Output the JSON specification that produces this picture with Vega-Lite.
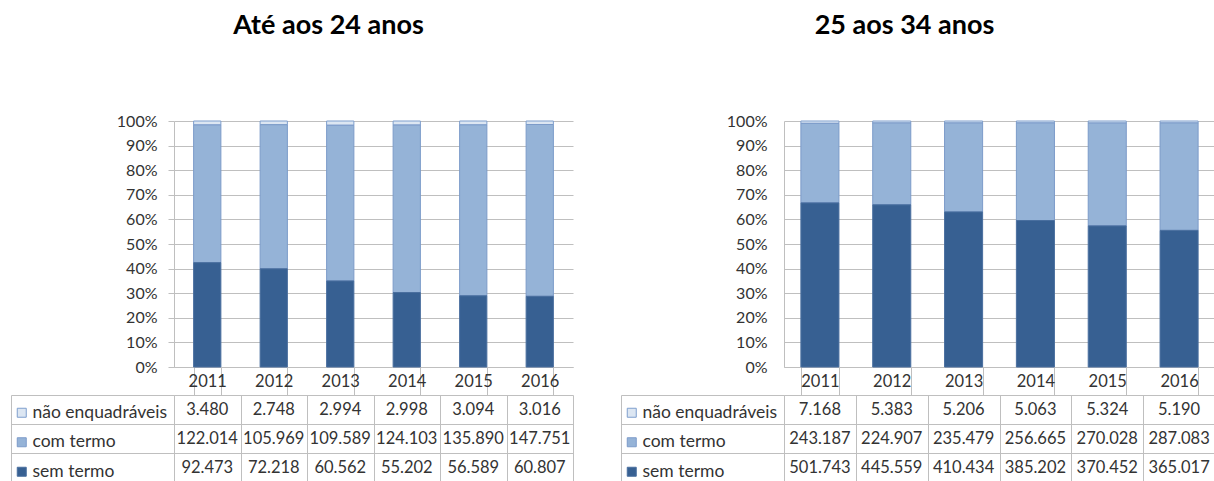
{
  "$schema": "https://vega.github.io/schema/vega-lite/v6.json",
  "background": "white",
  "padding": {"left": 10, "top": 12, "right": 0, "bottom": 0},
  "datasets": {
    "jovens": [
      {"ano": "2011", "serie": "não enquadráveis", "valor": 3480, "ordem": 3},
      {"ano": "2011", "serie": "com termo", "valor": 122014, "ordem": 2},
      {"ano": "2011", "serie": "sem termo", "valor": 92473, "ordem": 1},
      {"ano": "2012", "serie": "não enquadráveis", "valor": 2748, "ordem": 3},
      {"ano": "2012", "serie": "com termo", "valor": 105969, "ordem": 2},
      {"ano": "2012", "serie": "sem termo", "valor": 72218, "ordem": 1},
      {"ano": "2013", "serie": "não enquadráveis", "valor": 2994, "ordem": 3},
      {"ano": "2013", "serie": "com termo", "valor": 109589, "ordem": 2},
      {"ano": "2013", "serie": "sem termo", "valor": 60562, "ordem": 1},
      {"ano": "2014", "serie": "não enquadráveis", "valor": 2998, "ordem": 3},
      {"ano": "2014", "serie": "com termo", "valor": 124103, "ordem": 2},
      {"ano": "2014", "serie": "sem termo", "valor": 55202, "ordem": 1},
      {"ano": "2015", "serie": "não enquadráveis", "valor": 3094, "ordem": 3},
      {"ano": "2015", "serie": "com termo", "valor": 135890, "ordem": 2},
      {"ano": "2015", "serie": "sem termo", "valor": 56589, "ordem": 1},
      {"ano": "2016", "serie": "não enquadráveis", "valor": 3016, "ordem": 3},
      {"ano": "2016", "serie": "com termo", "valor": 147751, "ordem": 2},
      {"ano": "2016", "serie": "sem termo", "valor": 60807, "ordem": 1}
    ],
    "adultos": [
      {"ano": "2011", "serie": "não enquadráveis", "valor": 7168, "ordem": 3},
      {"ano": "2011", "serie": "com termo", "valor": 243187, "ordem": 2},
      {"ano": "2011", "serie": "sem termo", "valor": 501743, "ordem": 1},
      {"ano": "2012", "serie": "não enquadráveis", "valor": 5383, "ordem": 3},
      {"ano": "2012", "serie": "com termo", "valor": 224907, "ordem": 2},
      {"ano": "2012", "serie": "sem termo", "valor": 445559, "ordem": 1},
      {"ano": "2013", "serie": "não enquadráveis", "valor": 5206, "ordem": 3},
      {"ano": "2013", "serie": "com termo", "valor": 235479, "ordem": 2},
      {"ano": "2013", "serie": "sem termo", "valor": 410434, "ordem": 1},
      {"ano": "2014", "serie": "não enquadráveis", "valor": 5063, "ordem": 3},
      {"ano": "2014", "serie": "com termo", "valor": 256665, "ordem": 2},
      {"ano": "2014", "serie": "sem termo", "valor": 385202, "ordem": 1},
      {"ano": "2015", "serie": "não enquadráveis", "valor": 5324, "ordem": 3},
      {"ano": "2015", "serie": "com termo", "valor": 270028, "ordem": 2},
      {"ano": "2015", "serie": "sem termo", "valor": 370452, "ordem": 1},
      {"ano": "2016", "serie": "não enquadráveis", "valor": 5190, "ordem": 3},
      {"ano": "2016", "serie": "com termo", "valor": 287083, "ordem": 2},
      {"ano": "2016", "serie": "sem termo", "valor": 365017, "ordem": 1}
    ]
  },
  "columns": 2,
  "bounds": "flush",
  "align": "each",
  "spacing": {"row": 28, "column": 211},
  "resolve": {
    "scale": {"color": "independent", "stroke": "independent"},
    "legend": {"color": "independent", "stroke": "independent"}
  },
  "concat": [
    {
      "data": {"name": "jovens"},
      "width": 399,
      "height": 246,
      "title": {"text": "Até aos 24 anos", "anchor": "middle", "frame": "group", "dx": -45, "offset": 52, "baseline": "alphabetic", "fontSize": 27, "fontWeight": "bold", "color": "#000000"},
      "mark": {"type": "bar", "strokeWidth": 1},
      "encoding": {
        "x": {"field": "ano", "type": "ordinal", "scale": {"paddingInner": 0.59, "paddingOuter": 0.295},
          "axis": {"title": null, "orient": "bottom", "tickBand": "extent", "tickSize": 28, "labelAngle": 0, "labelBaseline": "middle", "labelPadding": -14, "labelFontSize": 16.5, "grid": false}},
        "y": {"field": "valor", "type": "quantitative", "stack": "normalize", "scale": {"domain": [0, 1]},
          "axis": {"title": null, "format": "%", "values": [0, 0.1, 0.2, 0.3, 0.4, 0.5, 0.6, 0.7, 0.8, 0.9, 1], "tickSize": 6, "labelPadding": 11, "grid": true}},
        "color": {"field": "serie", "type": "nominal",
          "scale": {"domain": ["não enquadráveis", "com termo", "sem termo"], "range": ["#dce6f2", "#95b3d7", "#376092"]},
          "legend": {"orient": "none", "legendX": -161, "legendY": 283, "title": null, "symbolType": "square", "symbolSize": 81, "labelOffset": 2, "rowPadding": 10.5, "padding": 0}},
        "stroke": {"field": "serie", "type": "nominal",
          "scale": {"domain": ["não enquadráveis", "com termo", "sem termo"], "range": ["#7f9fcd", "#7c9bc9", "#4a6f9f"]},
          "legend": {"orient": "none", "legendX": -161, "legendY": 283, "title": null, "symbolType": "square", "symbolSize": 81, "labelOffset": 2, "rowPadding": 10.5, "padding": 0}},
        "order": {"field": "ordem", "type": "quantitative"}
      }
    },
    {
      "data": {"name": "adultos"},
      "width": 431,
      "height": 246,
      "title": {"text": "25 aos 34 anos", "anchor": "middle", "frame": "group", "dx": -95, "offset": 52, "baseline": "alphabetic", "fontSize": 27, "fontWeight": "bold", "color": "#000000"},
      "mark": {"type": "bar", "strokeWidth": 1},
      "encoding": {
        "x": {"field": "ano", "type": "ordinal", "scale": {"paddingInner": 0.47, "paddingOuter": 0.235},
          "axis": {"title": null, "orient": "bottom", "tickBand": "extent", "tickSize": 28, "labelAngle": 0, "labelBaseline": "middle", "labelPadding": -14, "labelFontSize": 16.5, "grid": false}},
        "y": {"field": "valor", "type": "quantitative", "stack": "normalize", "scale": {"domain": [0, 1]},
          "axis": {"title": null, "format": "%", "values": [0, 0.1, 0.2, 0.3, 0.4, 0.5, 0.6, 0.7, 0.8, 0.9, 1], "ticks": false, "labelPadding": 17, "grid": true}},
        "color": {"field": "serie", "type": "nominal",
          "scale": {"domain": ["não enquadráveis", "com termo", "sem termo"], "range": ["#dce6f2", "#95b3d7", "#376092"]},
          "legend": {"orient": "none", "legendX": -161, "legendY": 283, "title": null, "symbolType": "square", "symbolSize": 81, "labelOffset": 2, "rowPadding": 10.5, "padding": 0}},
        "stroke": {"field": "serie", "type": "nominal",
          "scale": {"domain": ["não enquadráveis", "com termo", "sem termo"], "range": ["#7f9fcd", "#7c9bc9", "#4a6f9f"]},
          "legend": {"orient": "none", "legendX": -161, "legendY": 283, "title": null, "symbolType": "square", "symbolSize": 81, "labelOffset": 2, "rowPadding": 10.5, "padding": 0}},
        "order": {"field": "ordem", "type": "quantitative"}
      }
    },
    {
      "data": {"name": "jovens"},
      "width": 399,
      "height": 87,
      "layer": [
        {
          "mark": {"type": "text", "fontSize": 16.5, "color": "#333333"},
          "encoding": {
            "x": {"field": "ano", "type": "ordinal", "scale": {"paddingInner": 0, "paddingOuter": 0},
              "axis": {"title": null, "orient": "top", "labels": false, "ticks": false, "domain": false, "grid": true, "tickBand": "extent"}},
            "y": {"field": "serie", "type": "nominal", "scale": {"domain": ["não enquadráveis", "com termo", "sem termo"], "paddingInner": 0, "paddingOuter": 0},
              "axis": {"title": null, "orient": "left", "labels": false, "tickBand": "extent", "tickSize": 163, "grid": true}},
            "text": {"field": "valor", "type": "quantitative", "format": ",d"}
          }
        },
        {
          "mark": {"type": "text", "opacity": 0},
          "encoding": {
            "y": {"field": "serie", "type": "nominal", "axis": {"title": null, "orient": "left", "offset": 163, "labels": false, "ticks": false, "grid": false}},
            "text": {"value": ""}
          }
        }
      ],
      "resolve": {"axis": {"y": "independent"}}
    },
    {
      "data": {"name": "adultos"},
      "width": 431,
      "height": 87,
      "layer": [
        {
          "mark": {"type": "text", "fontSize": 16.5, "color": "#333333"},
          "encoding": {
            "x": {"field": "ano", "type": "ordinal", "scale": {"paddingInner": 0, "paddingOuter": 0},
              "axis": {"title": null, "orient": "top", "labels": false, "ticks": false, "domain": false, "grid": true, "tickBand": "extent"}},
            "y": {"field": "serie", "type": "nominal", "scale": {"domain": ["não enquadráveis", "com termo", "sem termo"], "paddingInner": 0, "paddingOuter": 0},
              "axis": {"title": null, "orient": "left", "labels": false, "tickBand": "extent", "tickSize": 163, "grid": true}},
            "text": {"field": "valor", "type": "quantitative", "format": ",d"}
          }
        },
        {
          "mark": {"type": "text", "opacity": 0},
          "encoding": {
            "y": {"field": "serie", "type": "nominal", "axis": {"title": null, "orient": "left", "offset": 163, "labels": false, "ticks": false, "grid": false}},
            "text": {"value": ""}
          }
        }
      ],
      "resolve": {"axis": {"y": "independent"}}
    }
  ],
  "config": {
    "font": "Lato",
    "view": {"stroke": null},
    "locale": {"number": {"decimal": ",", "thousands": ".", "grouping": [3], "currency": ["", " €"]}},
    "axis": {
      "gridColor": "#bfbfbf",
      "gridWidth": 1,
      "domainColor": "#bfbfbf",
      "tickColor": "#bfbfbf",
      "labelColor": "#333333",
      "labelFont": "Lato",
      "labelFontSize": 16,
      "labelFontWeight": "normal"
    },
    "legend": {
      "labelFont": "Lato",
      "labelFontSize": 17.5,
      "labelColor": "#333333",
      "symbolStrokeWidth": 1,
      "labelLimit": 200
    },
    "title": {"font": "Lato"}
  }
}
